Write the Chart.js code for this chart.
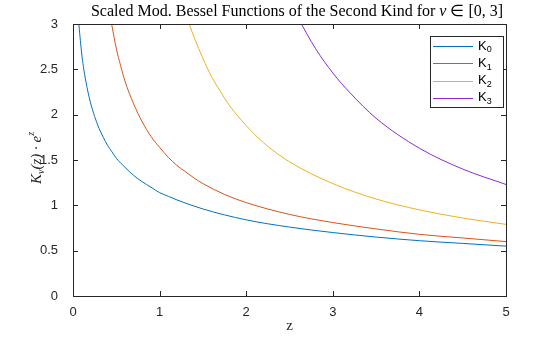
<!DOCTYPE html>
<html>
<head>
<meta charset="utf-8">
<script src="https://cdn.jsdelivr.net/npm/chart.js@4.4.1/dist/chart.umd.min.js"></script>
<style>
  html, body { margin: 0; padding: 0; background: #fff; }
  #wrap { width: 560px; height: 337px; }
</style>
</head>
<body>
<div id="wrap"><canvas id="besselChart" width="560" height="337"></canvas></div>
<script>
// values
const zK0 = [0.05, 0.07, 0.1, 0.12, 0.15, 0.2, 0.25, 0.3, 0.35, 0.4, 0.45, 0.5, 0.6, 0.7, 0.8, 0.9, 1, 1.1, 1.2, 1.5, 2, 2.5, 3, 3.5, 4, 4.5, 5];
const valK0 = [3.27, 2.98, 2.68, 2.53, 2.36, 2.14, 1.98, 1.85, 1.75, 1.66, 1.59, 1.52, 1.42, 1.33, 1.26, 1.20, 1.14, 1.10, 1.06, 0.96, 0.84, 0.76, 0.70, 0.65, 0.61, 0.58, 0.55];

const zK1 = [0.42, 0.45, 0.5, 0.55, 0.6, 0.7, 0.8, 0.9, 1, 1.1, 1.2, 1.3, 1.4, 1.5, 1.75, 2, 2.5, 3, 3.5, 4, 4.5, 5];
const valK1 = [3.15, 2.98, 2.73, 2.54, 2.37, 2.12, 1.92, 1.76, 1.64, 1.53, 1.44, 1.37, 1.30, 1.24, 1.12, 1.03, 0.90, 0.81, 0.74, 0.68, 0.64, 0.60];

const zK2 = [1.3, 1.35, 1.4, 1.5, 1.6, 1.7, 1.8, 2, 2.2, 2.5, 3, 3.5, 4, 4.5, 5];
const valK2 = [3.12, 2.98, 2.85, 2.62, 2.42, 2.26, 2.11, 1.88, 1.69, 1.48, 1.24, 1.07, 0.95, 0.86, 0.79];

const zK3 = [2.5, 2.6, 2.8, 3, 3.2, 3.5, 4, 4.5, 5];
const valK3 = [3.27, 3.07, 2.73, 2.46, 2.24, 1.96, 1.63, 1.40, 1.23];

const seriesLabels = ['K₀', 'K₁', 'K₂', 'K₃'];
const seriesColors = ['#0072BD', '#D95319', '#EDB120', '#8A2BD6'];

const xTicks = [0, 1, 2, 3, 4, 5];
const yTicks = [0, 0.5, 1, 1.5, 2, 2.5, 3];
const yTickLabels = ['0', '0.5', '1', '1.5', '2', '2.5', '3'];

const axisColor = '#262626';

function toPoints(xs, ys) {
    return xs.map((x, i) => ({ x: x, y: ys[i] }));
}

const allSeries = [[zK0, valK0], [zK1, valK1], [zK2, valK2], [zK3, valK3]];

// draws the MATLAB style box, inward ticks, title, axis labels and legend
const matlabFrame = {
    id: 'matlabFrame',
    afterDraw(chart) {
        const ctx = chart.ctx;
        const a = chart.chartArea;
        const xs = chart.scales.x;
        const ys = chart.scales.y;
        ctx.save();
        ctx.strokeStyle = axisColor;
        ctx.lineWidth = 1;

        // box
        ctx.strokeRect(Math.round(a.left) + 0.5, Math.round(a.top) + 0.5,
            Math.round(a.right - a.left), Math.round(a.bottom - a.top));

        // ticks pointing inward
        const tl = 5;
        ctx.beginPath();
        xTicks.forEach(v => {
            const px = Math.round(xs.getPixelForValue(v)) + 0.5;
            ctx.moveTo(px, a.bottom); ctx.lineTo(px, a.bottom - tl);
            ctx.moveTo(px, a.top); ctx.lineTo(px, a.top + tl);
        });
        yTicks.forEach(v => {
            const py = Math.round(ys.getPixelForValue(v)) + 0.5;
            ctx.moveTo(a.left, py); ctx.lineTo(a.left + tl, py);
            ctx.moveTo(a.right, py); ctx.lineTo(a.right - tl, py);
        });
        ctx.stroke();

        // title
        ctx.fillStyle = '#000';
        ctx.textBaseline = 'middle';
        const p1 = 'Scaled Mod. Bessel Functions of the Second Kind for ';
        const p2 = 'ν';
        const p3 = ' ∈ [0, 3]';
        const fN = '16px "Liberation Serif", "Times New Roman", serif';
        const fI = 'italic 16px "Liberation Serif", "Times New Roman", serif';
        ctx.font = fN; const w1 = ctx.measureText(p1).width; const w3 = ctx.measureText(p3).width;
        ctx.font = fI; const w2 = ctx.measureText(p2).width;
        let tx = 297 - (w1 + w2 + w3) / 2;
        ctx.textAlign = 'left';
        ctx.font = fN; ctx.fillText(p1, tx, 12); tx += w1;
        ctx.font = fI; ctx.fillText(p2, tx, 12); tx += w2;
        ctx.font = fN; ctx.fillText(p3, tx, 12);

        // x label
        ctx.fillStyle = axisColor;
        ctx.textAlign = 'center';
        ctx.font = '15px "Liberation Serif", "Times New Roman", serif';
        ctx.fillText('z', (a.left + a.right) / 2, 326);

        // y label, rotated
        ctx.save();
        ctx.translate(37, 158);
        ctx.rotate(-Math.PI / 2);
        const parts = [
            { t: 'K', f: 'italic 15px "Liberation Serif", serif', dy: 0 },
            { t: 'ν', f: 'italic 10px "Liberation Serif", serif', dy: 4 },
            { t: '(z) · ', f: 'italic 15px "Liberation Serif", serif', dy: 0 },
            { t: 'e', f: 'italic 15px "Liberation Serif", serif', dy: 0 },
            { t: 'z', f: 'italic 10px "Liberation Serif", serif', dy: -6 }
        ];
        let total = 0;
        parts.forEach(p => { ctx.font = p.f; p.w = ctx.measureText(p.t).width; total += p.w; });
        let lx = -total / 2;
        ctx.textAlign = 'left';
        parts.forEach(p => { ctx.font = p.f; ctx.fillText(p.t, lx, p.dy); lx += p.w; });
        ctx.restore();

        // legend
        const lgX = 430, lgY = 36, lgW = 73, lgH = 71;
        ctx.fillStyle = '#fff';
        ctx.fillRect(lgX, lgY, lgW, lgH);
        ctx.strokeStyle = axisColor;
        ctx.strokeRect(lgX + 0.5, lgY + 0.5, lgW, lgH);
        chart.data.datasets.forEach((ds, i) => {
            const ry = 46 + i * 17.3;
            ctx.strokeStyle = ds.borderColor;
            ctx.beginPath();
            ctx.moveTo(433, Math.round(ry) + 0.5);
            ctx.lineTo(473, Math.round(ry) + 0.5);
            ctx.stroke();
            ctx.fillStyle = '#000';
            ctx.font = '13px "Liberation Sans", Arial, sans-serif';
            ctx.textAlign = 'left';
            ctx.fillText('K', 478, ry);
            const kw = ctx.measureText('K').width;
            ctx.font = '9px "Liberation Sans", Arial, sans-serif';
            ctx.fillText(String(i), 478 + kw, ry + 4);
        });
        ctx.restore();
    }
};

const ctx = document.getElementById('besselChart').getContext('2d');
const besselChart = new Chart(ctx, {
    type: 'line',
    data: {
        datasets: allSeries.map((s, i) => ({
            label: seriesLabels[i],
            data: toPoints(s[0], s[1]),
            borderColor: seriesColors[i],
            backgroundColor: seriesColors[i],
            borderWidth: 1,
            pointRadius: 0,
            fill: false,
            cubicInterpolationMode: 'monotone'
        }))
    },
    options: {
        responsive: false,
        animation: false,
        events: [],
        layout: { padding: { top: 24, right: 54, left: 0, bottom: 0 } },
        plugins: {
            legend: { display: false },
            title: { display: false },
            tooltip: { enabled: false }
        },
        scales: {
            x: {
                type: 'linear',
                min: 0,
                max: 5,
                afterBuildTicks: scale => { scale.ticks = xTicks.map(v => ({ value: v })); },
                afterFit: scale => { scale.height = 41; },
                grid: { display: false },
                border: { display: false },
                ticks: {
                    color: axisColor,
                    padding: 1,
                    maxRotation: 0,
                    font: { family: '"Liberation Sans", Arial, sans-serif', size: 13 },
                    callback: v => String(v)
                }
            },
            y: {
                type: 'linear',
                min: 0,
                max: 3,
                afterBuildTicks: scale => { scale.ticks = yTicks.map(v => ({ value: v })); },
                afterFit: scale => { scale.width = 73; },
                grid: { display: false },
                border: { display: false },
                ticks: {
                    color: axisColor,
                    padding: 7,
                    font: { family: '"Liberation Sans", Arial, sans-serif', size: 13 },
                    callback: v => yTickLabels[yTicks.indexOf(v)]
                }
            }
        }
    },
    plugins: [matlabFrame]
});
</script>
</body>
</html>
